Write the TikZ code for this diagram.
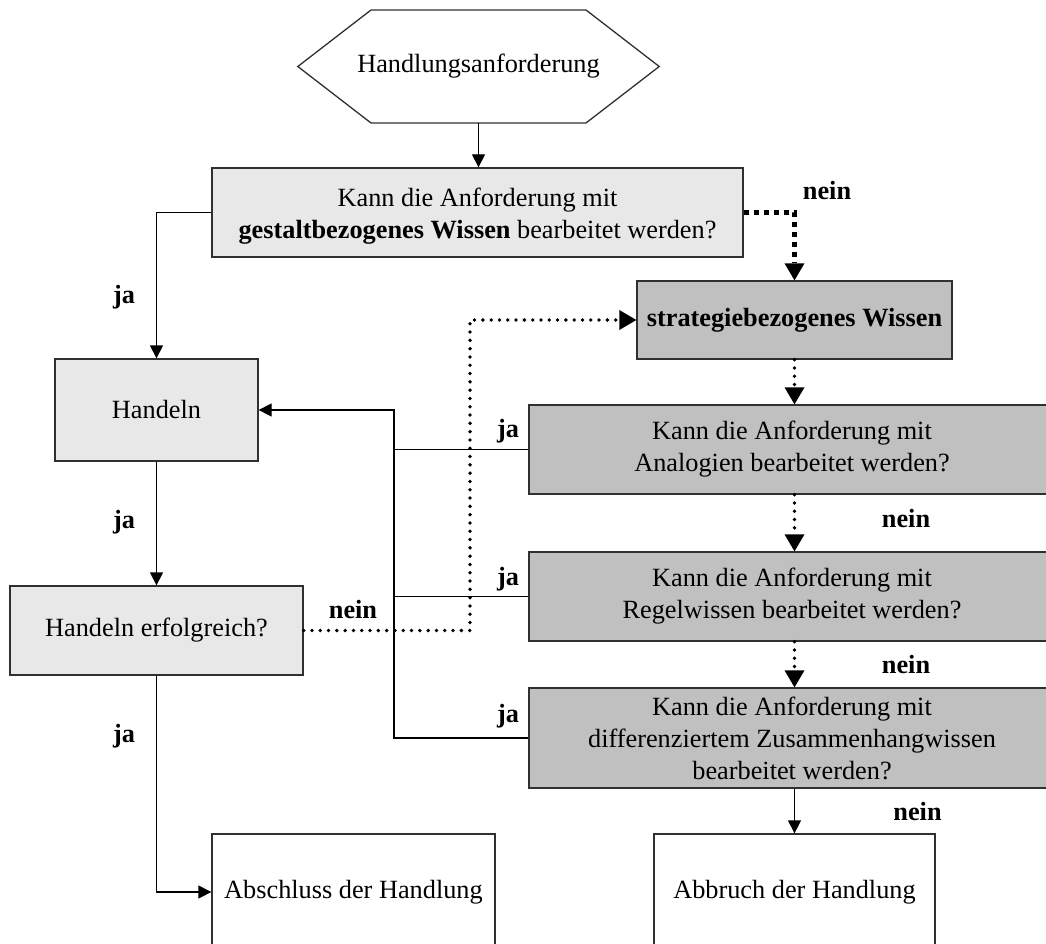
\documentclass[tikz,border=0pt]{standalone}
\usepackage{fontspec}
\setmainfont{Liberation Serif}
\usetikzlibrary{arrows.meta}
\definecolor{boxlight}{HTML}{E8E8E8}
\definecolor{boxdark}{HTML}{C0C0C0}
\definecolor{edge}{HTML}{303030}
\begin{document}
\begin{tikzpicture}[x=1pt,y=-1pt,
  every node/.style={font=\fontsize{26.3}{32}\selectfont, inner sep=0pt, align=center},
  outline/.style={draw=edge, line width=1.3pt},
  lightbox/.style={outline, fill=boxlight},
  darkbox/.style={outline, fill=boxdark},
  endbox/.style={outline, fill=white},
  lbl/.style={font=\fontsize{26.3}{32}\selectfont\bfseries, anchor=base},
  flow/.style={line width=1.3pt, -{Triangle[width=13pt,length=13pt]}},
  link/.style={line width=1.3pt},
  weakflow/.style={line width=3.8pt, line cap=round, dash pattern=on 0pt off 8.3pt,
    -{Triangle[width=20pt,length=17pt,line width=0pt]}},
  strongflow/.style={line width=5pt, dash pattern=on 5.5pt off 4.5pt,
    -{Triangle[width=20pt,length=17pt,line width=0pt]}}
]
\useasboundingbox (0,0) rectangle (1046,944);
\clip (0,0) rectangle (1046,944);

% start symbol
\node[minimum width=361pt, minimum height=113pt] (hex) at (478.5,66.5) {Handlungsanforderung};
\draw[outline] (hex.west) -- (371,10) -- (586,10) -- (hex.east) -- (586,123) -- (371,123) -- cycle;

% left column
\node[lightbox, minimum width=531pt, minimum height=89pt] (gest) at (477.5,212.5)
  {\raisebox{-4pt}[\height][\depth]{\begin{tabular}{@{}c@{}}Kann die Anforderung mit\\\textbf{gestaltbezogenes Wissen} bearbeitet werden?\end{tabular}}};
\node[lightbox, minimum width=203pt, minimum height=102pt] (hand) at (156.5,410) {Handeln};
\node[lightbox, minimum width=293pt, minimum height=89pt] (erf) at (156.5,630.5) {Handeln erfolgreich?};
\node[endbox, minimum width=283pt, minimum height=116pt] (absch) at (353.5,892) {Abschluss der Handlung};

% right column
\node[darkbox, minimum width=315pt, minimum height=78pt] (strat) at (794.5,320) {\textbf{strategiebezogenes Wissen}};
\node[darkbox, minimum width=526pt, minimum height=89pt] (ana) at (792,449.5)
  {Kann die Anforderung mit\\Analogien bearbeitet werden?};
\node[darkbox, minimum width=526pt, minimum height=89pt] (regel) at (792,596.5)
  {Kann die Anforderung mit\\Regelwissen bearbeitet werden?};
\node[darkbox, minimum width=526pt, minimum height=100pt] (diff) at (792,738)
  {Kann die Anforderung mit\\differenziertem Zusammenhangwissen\\bearbeitet werden?};
\node[endbox, minimum width=281pt, minimum height=116pt] (abbr) at (794.5,892) {Abbruch der Handlung};

\coordinate (bus) at (394,0);
\coordinate (loop) at (470,0);

% connectors
\draw[flow] (hex.south) -- (hex.south |- gest.north);
\draw[flow] (gest.west) -| (hand.north);
\draw[flow] (hand.south) -- (erf.north);
\draw[flow] (erf.south) |- (absch.west);
\draw[strongflow] (gest.east) -| (strat.north);
\draw[link] (regel.west) -- (regel.west -| bus);
\draw[link] (diff.west) -- (diff.west -| bus) -- (bus |- ana.west);
\draw[flow] (ana.west) -- (ana.west -| bus) |- (hand.east);
\draw[weakflow] (erf.east) -- (erf.east -| loop) |- (strat.west);
\draw[weakflow] (strat.south) -- (strat.south |- ana.north);
\draw[weakflow] (strat.south |- ana.south) -- (strat.south |- regel.north);
\draw[weakflow] (strat.south |- regel.south) -- (strat.south |- diff.north);
\draw[flow] (abbr.north |- diff.south) -- (abbr.north);

% branch labels
\node[lbl] (n1) at (827,200) {nein};
\node[lbl] (j1) at (124,303) {ja};
\node[lbl] (j2) at (124,528) {ja};
\node[lbl] (j3) at (124,742) {ja};
\node[lbl] (j4) at (508,437) {ja};
\node[lbl] (j5) at (508,585) {ja};
\node[lbl] (j6) at (508,722) {ja};
\node[lbl] (n2) at (353,618) {nein};
\node[lbl] (n3) at (906,527) {nein};
\node[lbl] (n4) at (906,673) {nein};
\node[lbl] (n5) at (917.5,820) {nein};
\end{tikzpicture}
\end{document}
